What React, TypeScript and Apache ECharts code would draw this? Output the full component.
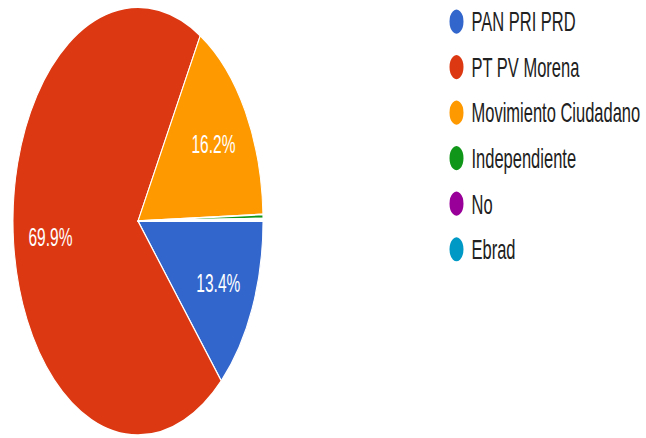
import React, { useEffect, useRef } from "react";
import * as echarts from "echarts";

const categories = ["PAN PRI PRD", "PT PV Morena", "Movimiento Ciudadano", "Independiente", "No", "Ebrad"];
const values = [13.4, 69.9, 16.2, 0.3, 0.1, 0.1];
const colors = ["#3366cc", "#dc3912", "#ff9900", "#109618", "#990099", "#0099c6"];

const STRETCH_Y = 1.712;
const W = 646;
const H = 438 / STRETCH_Y;

export default function App() {
  const ref = useRef<HTMLDivElement>(null);

  useEffect(() => {
    if (!ref.current) return;
    const chart = echarts.init(ref.current, null, { renderer: "svg" });
    const baseData = categories.map((name, i) => ({
      name,
      value: values[i],
      itemStyle: { color: colors[i] },
    }));
    const labelData = categories.map((name, i) => ({
      name,
      value: values[i],
      label: { show: values[i] >= 5 },
    }));
    chart.setOption({
      animation: false,
      backgroundColor: "#ffffff",
      legend: {
        orient: "vertical",
        left: 447.5,
        top: 3.6,
        padding: 0,
        icon: "circle",
        itemWidth: 16,
        itemHeight: 16,
        itemGap: 8.6,
        data: categories,
        selectedMode: false,
        textStyle: {
          fontFamily: "Liberation Sans, Arial, sans-serif",
          fontSize: 16.5,
          lineHeight: 18,
          color: "#212121",
          padding: [0, 0, 0, 2],
        },
      },
      series: [
        {
          type: "pie",
          center: [138, 129.2],
          radius: 125,
          startAngle: 0,
          clockwise: true,
          avoidLabelOverlap: false,
          label: { show: false },
          labelLine: { show: false },
          itemStyle: { borderColor: "#ffffff", borderWidth: 1 },
          emphasis: { disabled: true },
          silent: true,
          data: baseData,
        },
        {
          type: "pie",
          center: [138, 129.2],
          radius: [45, 125],
          startAngle: 0,
          clockwise: true,
          avoidLabelOverlap: false,
          silent: true,
          emphasis: { disabled: true },
          itemStyle: { color: "rgba(0,0,0,0)", borderWidth: 0 },
          labelLine: { show: false },
          label: {
            position: "inside",
            formatter: (p: any) => `${p.value}%`,
            color: "#ffffff",
            fontFamily: "Liberation Sans, Arial, sans-serif",
            fontSize: 15.5,
          },
          data: labelData,
        },
      ],
    });
    return () => chart.dispose();
  }, []);

  return (
    <div style={{ position: "fixed", left: 0, top: 0, width: W, height: 438, overflow: "hidden", background: "#fff" }}>
      <div
        ref={ref}
        style={{
          width: W,
          height: H,
          transform: `scaleY(${STRETCH_Y})`,
          transformOrigin: "0 0",
        }}
      />
    </div>
  );
}
